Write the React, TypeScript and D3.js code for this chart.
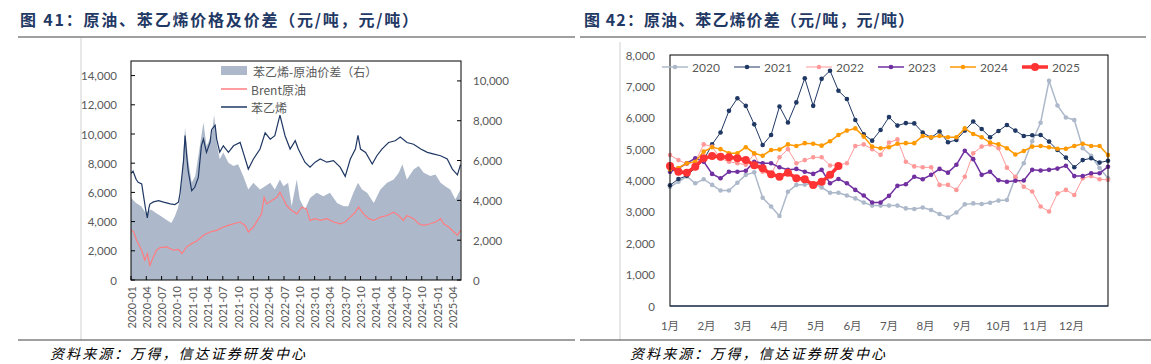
import React from 'react';
import * as d3 from 'd3';

const W = 1151;
const H = 364;

// ---- 图41 data: x = months since 2020-01 ----
const styreneMonths = [0, 0.4, 1.0, 1.4, 2.1, 2.4, 2.9, 3.2, 3.5, 3.7, 4.4, 5.4, 6.4, 7.7, 8.6, 9.3, 9.6, 10.3, 10.6, 10.9, 11.2, 11.9, 12.5, 13.2, 13.8, 14.2, 14.8, 15.5, 15.8, 16.5, 16.8, 17.4, 18.1, 19.1, 20.1, 21.4, 22.0, 23.0, 24.0, 25.3, 26.3, 27.3, 28.2, 29.2, 30.2, 31.2, 32.2, 32.8, 34.1, 35.1, 36.1, 37.1, 38.4, 39.7, 41.0, 42.0, 43.0, 44.0, 44.5, 45.0, 46.0, 47.3, 48.2, 49.2, 50.5, 51.8, 52.8, 54.1, 55.4, 56.8, 58.1, 59.4, 60.7, 62.0, 63.0, 64.0, 64.6];
const styreneValues = [7300, 7450, 6900, 6690, 6580, 5900, 4760, 4250, 4900, 5200, 5350, 5440, 5330, 5220, 5170, 5330, 5900, 8170, 9900, 8600, 7500, 6120, 6350, 7030, 9190, 9650, 8740, 9420, 10300, 10600, 9650, 8760, 9190, 8740, 9190, 9420, 8740, 7600, 8290, 8970, 10080, 9650, 9880, 11300, 9880, 8970, 9540, 8970, 8070, 7730, 8070, 8290, 8070, 8180, 7730, 7100, 8290, 8970, 9900, 8970, 8740, 7940, 8510, 8970, 9420, 9540, 9800, 9420, 9300, 8970, 8740, 8620, 8510, 8290, 7600, 7200, 7900];

const brentMonths = [0, 0.5, 1.1, 2.1, 2.7, 3.2, 3.7, 4.4, 5.0, 5.7, 7.0, 8.3, 9.3, 10.0, 10.9, 11.9, 12.9, 14.2, 15.5, 16.8, 18.1, 19.1, 20.1, 21.4, 22.4, 23.0, 24.0, 25.0, 25.6, 26.1, 26.6, 27.6, 28.6, 29.2, 29.9, 30.5, 31.5, 32.5, 33.5, 34.4, 35.1, 36.1, 37.1, 38.4, 39.7, 41.0, 42.0, 43.0, 44.0, 44.6, 45.6, 46.6, 47.6, 48.9, 50.2, 51.5, 52.5, 53.4, 54.1, 55.4, 56.4, 57.4, 58.7, 59.7, 60.7, 61.3, 62.3, 63.3, 64.0, 64.6];
const brentValues = [3450, 3300, 2720, 2040, 1360, 1810, 1000, 1590, 2040, 2220, 2270, 2040, 2090, 1810, 2270, 2490, 2670, 3060, 3290, 3400, 3630, 3740, 3850, 3970, 3740, 3290, 3630, 4200, 4530, 5660, 5210, 5440, 5660, 6010, 5550, 5100, 4760, 4530, 4990, 4870, 4080, 4200, 4080, 4200, 3970, 3850, 3970, 4310, 4650, 4990, 4530, 4200, 4080, 4310, 4420, 4650, 4420, 4080, 4420, 4200, 3850, 3740, 3850, 3970, 4200, 3850, 3630, 3290, 3060, 3400];

const spreadMonths = [0, 1.0, 2.0, 2.9, 3.9, 4.9, 5.9, 6.9, 7.9, 8.6, 9.2, 9.7, 10.2, 10.6, 11.2, 11.9, 12.6, 13.5, 14.2, 14.8, 15.8, 16.3, 16.8, 17.4, 18.1, 19.1, 20.1, 21.0, 22.0, 23.0, 24.0, 25.3, 26.3, 27.3, 28.2, 29.2, 29.9, 30.8, 31.5, 32.5, 33.1, 34.1, 35.1, 36.4, 37.7, 39.0, 40.4, 41.7, 42.6, 43.6, 44.5, 45.3, 46.3, 47.6, 48.9, 50.2, 51.5, 52.5, 53.2, 54.1, 55.4, 56.4, 57.4, 58.7, 59.7, 60.7, 61.6, 62.6, 63.6, 64.6];
const spreadValues = [4125, 3870, 3700, 3370, 3535, 3370, 3200, 3030, 2860, 3200, 3620, 4210, 6060, 7660, 6060, 4880, 5220, 6730, 7910, 6730, 7240, 8300, 6900, 6060, 6400, 5890, 5720, 5810, 5220, 4540, 4880, 4540, 4710, 4880, 4540, 5050, 4710, 4880, 3700, 5050, 4040, 3535, 4125, 4380, 4210, 4380, 3870, 3700, 3700, 4380, 4880, 4540, 4380, 3870, 4540, 4880, 5050, 5390, 5810, 5050, 5550, 5720, 5390, 5220, 5300, 4880, 4710, 4540, 4040, 4540];

const leftTickLabels = ['2020-01', '2020-04', '2020-07', '2020-10', '2021-01', '2021-04', '2021-07', '2021-10', '2022-01', '2022-04', '2022-07', '2022-10', '2023-01', '2023-04', '2023-07', '2023-10', '2024-01', '2024-04', '2024-07', '2024-10', '2025-01', '2025-04'];
const leftYTicks = [0, 2000, 4000, 6000, 8000, 10000, 12000, 14000];
const rightYTicks = [0, 2000, 4000, 6000, 8000, 10000];

// ---- 图42 data: weekly spread per year ----
const monthLabels = ['1月', '2月', '3月', '4月', '5月', '6月', '7月', '8月', '9月', '10月', '11月', '12月'];
const years = ['2020', '2021', '2022', '2023', '2024', '2025'];
const v2020 = [3800, 3960, 4130, 3910, 4040, 3860, 3680, 3680, 3930, 4180, 4260, 3450, 3170, 2870, 3640, 3860, 3870, 3900, 3780, 3610, 3610, 3520, 3430, 3300, 3200, 3200, 3200, 3200, 3110, 3090, 3140, 3060, 2930, 2820, 2980, 3240, 3270, 3250, 3290, 3360, 3380, 4100, 4550, 5250, 5840, 7180, 6390, 6010, 5930, 5030, 4790, 4400, 4070];
const v2021 = [3850, 4050, 4150, 4400, 4650, 5150, 5530, 6220, 6620, 6380, 5790, 5130, 5450, 6360, 5850, 6490, 7260, 6380, 7240, 7500, 6860, 6600, 5930, 5470, 5270, 5610, 6020, 5750, 5830, 5820, 5530, 5370, 5560, 5220, 5290, 5590, 5880, 5640, 5380, 5580, 5770, 5590, 5420, 5440, 5450, 5240, 4970, 4730, 4420, 4650, 4710, 4570, 4630];
const v2022 = [4810, 4650, 4530, 4600, 5150, 5080, 4700, 4600, 4550, 4500, 4850, 4280, 4180, 4740, 5000, 4550, 4650, 4740, 4740, 4480, 4500, 4550, 5100, 5150, 5000, 4820, 5210, 5310, 4600, 4450, 4420, 4420, 3860, 3860, 3700, 4120, 4870, 5080, 5150, 5030, 4410, 4120, 3800, 3650, 3170, 3010, 3590, 3700, 3540, 4070, 4140, 4040, 4020];
const v2023 = [4280, 4390, 4550, 4710, 4600, 4210, 4070, 4280, 4280, 4310, 4600, 4550, 4550, 4420, 4340, 4370, 4280, 4210, 4340, 3910, 4050, 3910, 3700, 3520, 3300, 3300, 3510, 3830, 3880, 4120, 4040, 4180, 4370, 4250, 4500, 4950, 4680, 4180, 4280, 4010, 3960, 3990, 4000, 4340, 4320, 4340, 4380, 4470, 4140, 4140, 4230, 4230, 4440];
const v2024 = [4350, 4400, 4550, 4600, 4920, 5060, 5000, 4870, 4870, 5060, 4870, 4790, 4970, 4990, 5150, 5100, 5190, 5170, 5110, 5250, 5450, 5590, 5660, 5400, 5080, 5030, 5060, 5170, 5190, 5190, 5420, 5380, 5420, 5380, 5380, 5660, 5480, 5380, 5210, 5150, 5030, 4830, 4940, 5080, 5100, 5060, 5010, 5010, 5100, 5170, 5100, 5100, 4810];
const v2025 = [4460, 4280, 4250, 4440, 4710, 4780, 4760, 4740, 4710, 4650, 4490, 4390, 4200, 4120, 4250, 4070, 4040, 3860, 3960, 4180, 4460];
const yearValues = [v2020, v2021, v2022, v2023, v2024, v2025];
const yearColors = ['#adb9ca', '#203864', '#ff9999', '#7030a0', '#ff9900', '#ff3333'];
const yearWidths = [1.5, 1, 1, 1.5, 1.5, 3.5];
const yearRadius = [2.3, 2.3, 2.3, 2.3, 2.3, 4];
const rightChartTicks = [0, 1000, 2000, 3000, 4000, 5000, 6000, 7000, 8000];

const axisFont = "Lato, 'Noto Sans CJK SC', sans-serif";
const cjkFont = "'Noto Sans CJK SC', sans-serif";
const grey = '#595959';
const fmt = d3.format(',');

function LeftChart() {
  const x = d3.scaleLinear().domain([0, 64.7]).range([131, 461]);
  const yL = d3.scaleLinear().domain([0, 15000]).range([280, 61]);
  const yR = d3.scaleLinear().domain([0, 11000]).range([280, 61]);

  const areaPath = d3.area<number>()
    .x((d, i) => x(spreadMonths[i]))
    .y0(yR(0))
    .y1(d => yR(d))(spreadValues);
  const brentPath = d3.line<number>().x((d, i) => x(brentMonths[i])).y(d => yL(d))(brentValues);
  const styrenePath = d3.line<number>().x((d, i) => x(styreneMonths[i])).y(d => yL(d))(styreneValues);

  return (
    <g>
      <path d={areaPath || ''} fill="#adb9ca" />
      <path d={brentPath || ''} fill="none" stroke="#ff7c80" strokeWidth={1.2} />
      <path d={styrenePath || ''} fill="none" stroke="#203864" strokeWidth={1.2} />
      <rect x={131} y={61} width={330} height={219} fill="none" stroke="#000" strokeWidth={1} />
      {leftYTicks.map(t => (
        <g key={'l' + t}>
          <line x1={131} x2={135} y1={yL(t)} y2={yL(t)} stroke="#000" />
          <text x={117} y={yL(t)} textAnchor="end" dominantBaseline="central" fontSize={11.5} fill={grey} fontFamily={axisFont}>{fmt(t)}</text>
        </g>
      ))}
      {rightYTicks.map(t => (
        <g key={'r' + t}>
          <line x1={457} x2={461} y1={yR(t)} y2={yR(t)} stroke="#000" />
          <text x={473} y={yR(t)} dominantBaseline="central" fontSize={11.5} fill={grey} fontFamily={axisFont}>{fmt(t)}</text>
        </g>
      ))}
      {leftTickLabels.map((lab, i) => {
        const px = x(i * 3);
        return (
          <g key={lab}>
            <line x1={px} x2={px} y1={280} y2={276} stroke="#000" />
            <text transform={`translate(${px},${286}) rotate(-90)`} textAnchor="end" dominantBaseline="central" fontSize={11} fill={grey} fontFamily={axisFont}>{lab}</text>
          </g>
        );
      })}
      {/* legend */}
      <rect x={221} y={66} width={26} height={9} fill="#adb9ca" />
      <text x={253} y={71} dominantBaseline="central" fontSize={12} fill={grey} fontFamily={cjkFont}>苯乙烯-原油价差（右）</text>
      <line x1={221} x2={247} y1={89} y2={89} stroke="#ff7c80" strokeWidth={1.5} />
      <text x={251} y={89} dominantBaseline="central" fontSize={12} fill={grey} fontFamily={cjkFont}>Brent原油</text>
      <line x1={221} x2={247} y1={107} y2={107} stroke="#203864" strokeWidth={1.5} />
      <text x={251} y={107} dominantBaseline="central" fontSize={12} fill={grey} fontFamily={cjkFont}>苯乙烯</text>
    </g>
  );
}

function RightChart() {
  const x = d3.scaleLinear().domain([0, 52]).range([670, 1108]);
  const xm = d3.scaleLinear().domain([0, 12]).range([670, 1108]);
  const y = d3.scaleLinear().domain([0, 8000]).range([306, 55]);
  const line = d3.line<number>().x((d, i) => x(i)).y(d => y(d));

  return (
    <g>
      {rightChartTicks.map(t => (
        <text key={t} x={655} y={y(t)} textAnchor="end" dominantBaseline="central" fontSize={11.5} fill={grey} fontFamily={axisFont}>{fmt(t)}</text>
      ))}
      {monthLabels.map((m, i) => (
        <text key={m} x={xm(i)} y={325} textAnchor="middle" dominantBaseline="central" fontSize={11.5} fill={grey} fontFamily={axisFont}>{m}</text>
      ))}
      {yearValues.map((vals, k) => (
        <g key={years[k]}>
          <path d={line(vals) || ''} fill="none" stroke={yearColors[k]} strokeWidth={yearWidths[k]} />
          {vals.map((v, i) => (
            <circle key={i} cx={x(i)} cy={y(v)} r={yearRadius[k]} fill={yearColors[k]} />
          ))}
        </g>
      ))}
      <rect x={670} y={55} width={438} height={251} fill="none" stroke="#000" strokeWidth={1} />
      <line x1={670} x2={1108} y1={306} y2={306} stroke="#203864" strokeWidth={1.2} />
      {years.map((yr, k) => {
        const lx = 662 + 72 * k;
        return (
          <g key={'lg' + yr}>
            <line x1={lx} x2={lx + 26} y1={67} y2={67} stroke={yearColors[k]} strokeWidth={yearWidths[k]} />
            <circle cx={lx + 13} cy={67} r={yearRadius[k]} fill={yearColors[k]} />
            <text x={lx + 30} y={67} dominantBaseline="central" fontSize={12} fill={grey} fontFamily={axisFont}>{yr}</text>
          </g>
        );
      })}
    </g>
  );
}

export default function App() {
  return (
    <svg width={W} height={H} style={{ position: 'absolute', left: 0, top: 0, background: '#fff' }}>
      <text x={20} y={26} fontSize={16} fontWeight="bold" fill="#1f3864" fontFamily={cjkFont} textLength={398} lengthAdjust="spacing">图 41：原油、苯乙烯价格及价差（元/吨，元/吨）</text>
      <text x={584} y={26} fontSize={16} fontWeight="bold" fill="#1f3864" fontFamily={cjkFont} textLength={330} lengthAdjust="spacing">图 42：原油、苯乙烯价差（元/吨，元/吨）</text>
      <line x1={18} x2={575} y1={37} y2={37} stroke="#404040" strokeWidth={1} />
      <line x1={580} x2={1146} y1={37} y2={37} stroke="#404040" strokeWidth={1} />
      <line x1={81} x2={81} y1={38} y2={340} stroke="#d0d0d0" strokeWidth={1} />
      <line x1={620} x2={620} y1={42} y2={340} stroke="#d0d0d0" strokeWidth={1} />
      <line x1={18} x2={575} y1={340} y2={340} stroke="#404040" strokeWidth={1} />
      <line x1={580} x2={1151} y1={340} y2={340} stroke="#404040" strokeWidth={1} />
      <LeftChart />
      <RightChart />
      <text x={50} y={353} dominantBaseline="central" fontSize={14} fontStyle="italic" fill="#000" fontFamily={cjkFont} textLength={255} lengthAdjust="spacing">资料来源：万得，信达证券研发中心</text>
      <text x={630} y={353} dominantBaseline="central" fontSize={14} fontStyle="italic" fill="#000" fontFamily={cjkFont} textLength={255} lengthAdjust="spacing">资料来源：万得，信达证券研发中心</text>
    </svg>
  );
}
